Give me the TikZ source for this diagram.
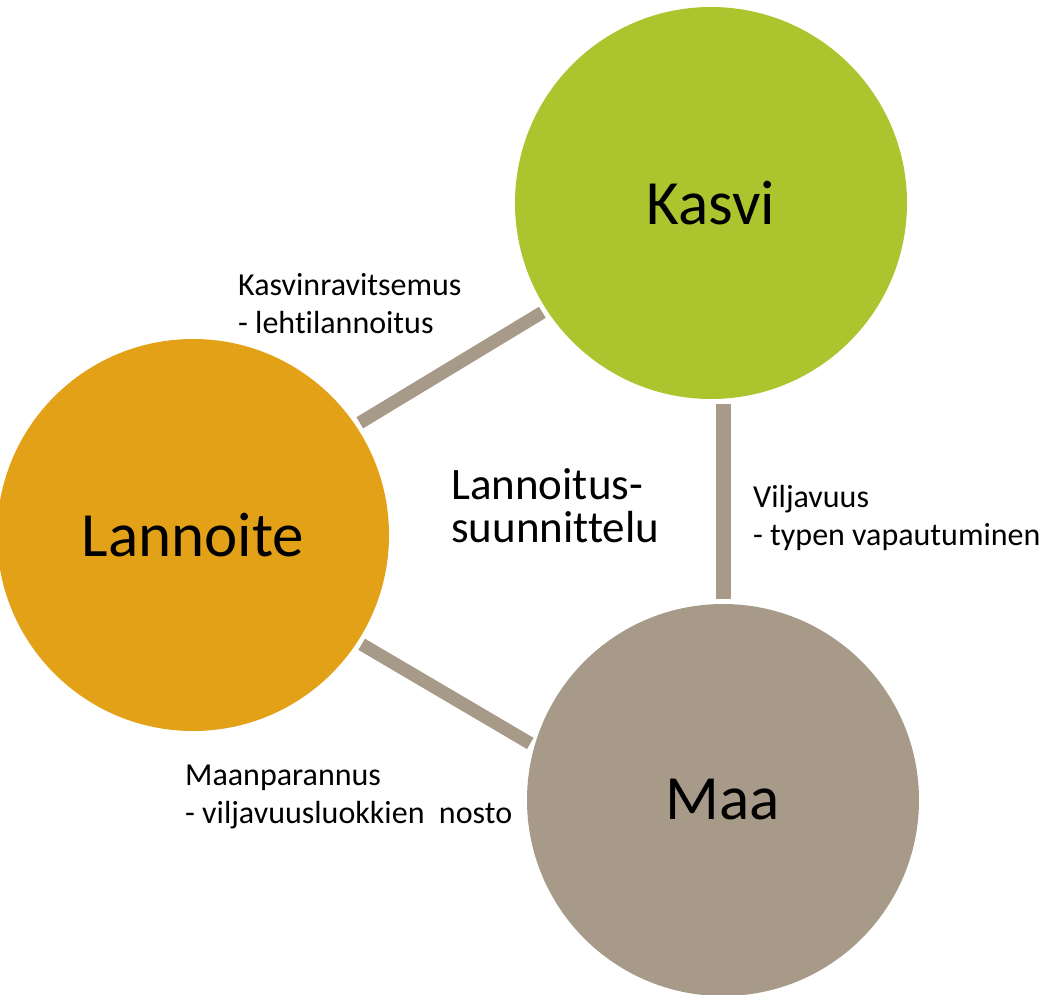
\documentclass[tikz,border=0pt]{standalone}
\usepackage{fontspec}
\setmainfont{Carlito}[Ligatures={NoCommon,NoContextual}]
\definecolor{kasvigreen}{RGB}{172,196,46}
\definecolor{lannorange}{RGB}{227,161,24}
\definecolor{maataupe}{RGB}{168,154,136}
\tikzset{
  bigcircle/.style={circle, minimum size=392pt, inner sep=0pt, outer sep=0pt, font=\fontsize{63}{70}\selectfont, text=black},
  link/.style={draw=maataupe, line width=13pt, shorten <=5pt, shorten >=5pt},
  smalllabel/.style={anchor=base west, align=left, inner sep=0pt, font=\fontsize{32}{38}\selectfont},
  midlabel/.style={anchor=base west, align=left, inner sep=0pt, font=\fontsize{45}{43}\selectfont}
}
\begin{document}
\begin{tikzpicture}[x=1pt,y=-1pt]
\useasboundingbox (0,0) rectangle (1046,995);
\node[bigcircle, fill=kasvigreen] (kasvi) at (711,203) {Kasvi};
\node[bigcircle, fill=lannorange] (lannoite) at (193,535) {Lannoite};
\node[bigcircle, fill=maataupe] (maa) at (723,800) {Maa};
\draw[link] (lannoite.34) -- (kasvi.213.5);
\draw[link] (lannoite.-33) -- (maa.164.6);
\draw[link, line width=15pt] (kasvi.south -| maa.north) -- (maa.north);
\node[smalllabel] (l1) at (238,333) {Kasvinravitsemus\\- lehtilannoitus};
\node[smalllabel] (l2) at (185,823) {Maanparannus\\- viljavuusluokkien\ \ nosto};
\node[smalllabel] (l3) at (753,545) {Viljavuus\\- typen vapautuminen};
\node[midlabel] (l4) at (451,542) {Lannoitus-\\suunnittelu};
\end{tikzpicture}
\end{document}
